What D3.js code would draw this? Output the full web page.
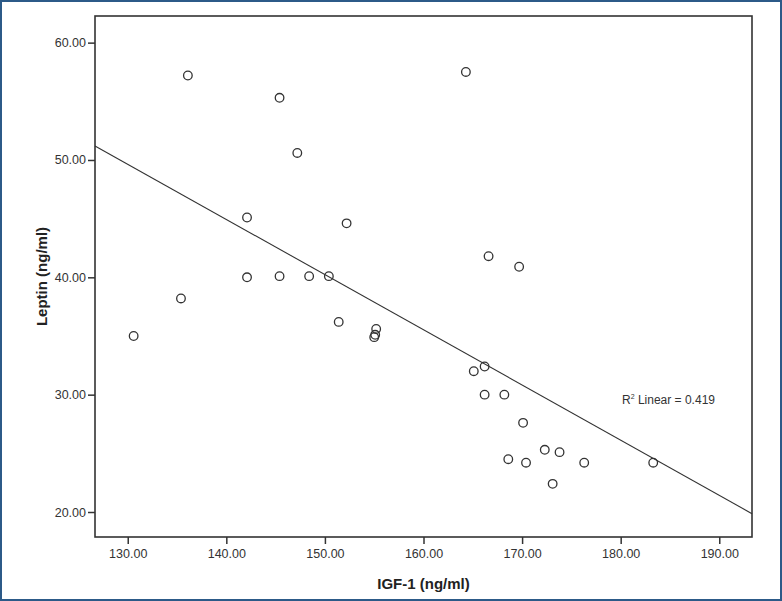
<!DOCTYPE html>
<html>
<head>
<meta charset="utf-8">
<script src="https://cdn.jsdelivr.net/npm/d3@7/dist/d3.min.js"></script>
<style>
  html, body { margin: 0; padding: 0; background: #fff; }
  svg { display: block; }
</style>
</head>
<body>
<svg id="chart" width="782" height="601"></svg>
<script>
// ---- data ----
const igf1 = [130.6, 135.4, 136.1, 142.1, 142.1, 145.4, 145.4, 147.2, 148.4, 150.4,
              151.4, 152.2, 155.2, 155.1, 155.0, 164.3, 165.1, 166.2, 166.2, 166.6,
              168.2, 168.6, 169.7, 170.1, 170.4, 172.3, 173.1, 173.8, 176.3, 183.3];
const leptin = [35.0, 38.2, 57.2, 45.1, 40.0, 55.3, 40.1, 50.6, 40.1, 40.1,
                36.2, 44.6, 35.6, 35.1, 34.9, 57.5, 32.0, 32.4, 30.0, 41.8,
                30.0, 24.5, 40.9, 27.6, 24.2, 25.3, 22.4, 25.1, 24.2, 24.2];
const xTicks = [130, 140, 150, 160, 170, 180, 190];
const yTicks = [20, 30, 40, 50, 60];
const xDomain = [126.68, 193.32];
const yDomain = [17.87, 62.27];
const fitAnchorX = 126.68;   // linear fit: y = fitAnchorY + fitSlope * (x - fitAnchorX)
const fitAnchorY = 51.2;
const fitSlope = -0.4703;
const r2Label = "0.419";
const xTitle = "IGF-1 (ng/ml)";
const yTitle = "Leptin (ng/ml)";

// ---- layout ----
const svg = d3.select("#chart");
const W = 782, H = 601;
const plot = { left: 95, top: 16, right: 752, bottom: 537 };

// outer blue border
svg.append("rect")
  .attr("x", 1).attr("y", 1).attr("width", W - 2).attr("height", H - 2)
  .attr("fill", "#fff").attr("stroke", "#2c5a88").attr("stroke-width", 2);

const x = d3.scaleLinear().domain(xDomain).range([plot.left, plot.right]);
const y = d3.scaleLinear().domain(yDomain).range([plot.bottom, plot.top]);

const fmt = d3.format(".2f");
const axisColor = "#333";

// x axis
const gx = svg.append("g")
  .attr("transform", `translate(0,${plot.bottom})`)
  .call(d3.axisBottom(x).tickValues(xTicks).tickFormat(fmt).tickSize(7).tickSizeOuter(0).tickPadding(5));
gx.select(".domain").remove();
gx.selectAll(".tick line").attr("stroke", axisColor).attr("stroke-width", 1.5);
gx.selectAll(".tick text").attr("fill", "#333")
  .style("font-family", "'Liberation Sans', Arial, sans-serif").style("font-size", "12.5px");

// y axis
const gy = svg.append("g")
  .attr("transform", `translate(${plot.left},0)`)
  .call(d3.axisLeft(y).tickValues(yTicks).tickFormat(fmt).tickSize(7).tickSizeOuter(0).tickPadding(2));
gy.select(".domain").remove();
gy.selectAll(".tick line").attr("stroke", axisColor).attr("stroke-width", 1.5);
gy.selectAll(".tick text").attr("fill", "#333")
  .style("font-family", "'Liberation Sans', Arial, sans-serif").style("font-size", "12.5px");

// frame
svg.append("rect")
  .attr("x", plot.left).attr("y", plot.top)
  .attr("width", plot.right - plot.left).attr("height", plot.bottom - plot.top)
  .attr("fill", "none").attr("stroke", axisColor).attr("stroke-width", 1.6);

// regression line
const fit = v => fitAnchorY + fitSlope * (v - fitAnchorX);
svg.append("line")
  .attr("x1", x(xDomain[0])).attr("y1", y(fit(xDomain[0])))
  .attr("x2", x(xDomain[1])).attr("y2", y(fit(xDomain[1])))
  .attr("stroke", "#333").attr("stroke-width", 1.1);

// points
svg.append("g").selectAll("circle")
  .data(igf1.map((v, i) => [v, leptin[i]]))
  .join("circle")
  .attr("cx", d => x(d[0])).attr("cy", d => y(d[1]))
  .attr("r", 4.3)
  .attr("fill", "none").attr("stroke", "#333").attr("stroke-width", 1.3);

// R² label
const r2 = svg.append("text")
  .attr("x", 622).attr("y", 404)
  .attr("fill", "#333")
  .style("font-family", "'Liberation Sans', Arial, sans-serif").style("font-size", "12px");
r2.append("tspan").text("R");
r2.append("tspan").attr("dy", -5).style("font-size", "7px").text("2");
r2.append("tspan").attr("dy", 5).text(" Linear = " + r2Label);

// axis titles
svg.append("text")
  .attr("x", (plot.left + plot.right) / 2).attr("y", 589)
  .attr("text-anchor", "middle").attr("fill", "#222")
  .style("font-family", "'Liberation Sans', Arial, sans-serif")
  .style("font-size", "15px").style("font-weight", "bold")
  .text(xTitle);

svg.append("text")
  .attr("transform", `translate(47,${(plot.top + plot.bottom) / 2}) rotate(-90)`)
  .attr("text-anchor", "middle").attr("fill", "#222")
  .style("font-family", "'Liberation Sans', Arial, sans-serif")
  .style("font-size", "15px").style("font-weight", "bold")
  .text(yTitle);
</script>
</body>
</html>
